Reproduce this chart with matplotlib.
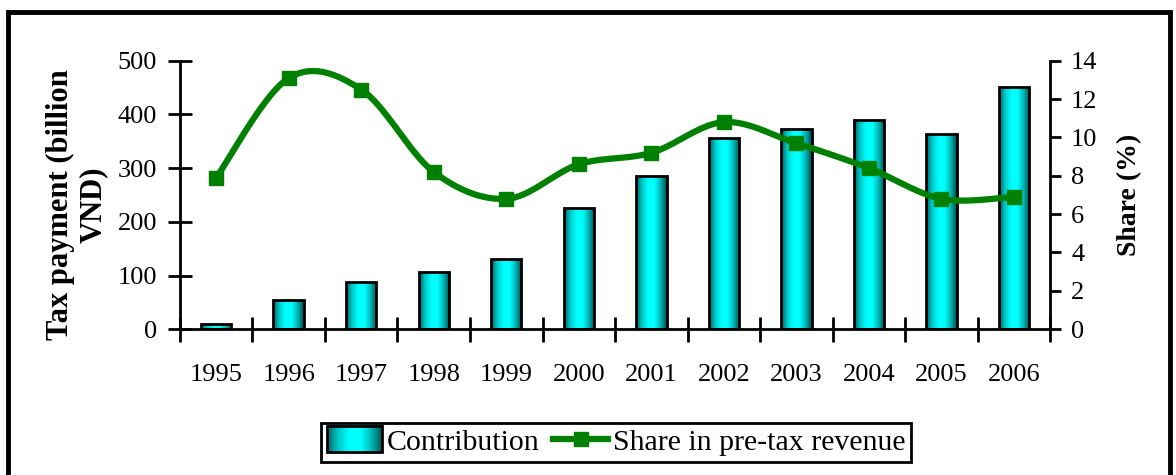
import numpy as np
import matplotlib
matplotlib.use("Agg")
import matplotlib.pyplot as plt
from matplotlib.colors import LinearSegmentedColormap
from matplotlib.patches import Rectangle
from matplotlib.lines import Line2D
from matplotlib.legend_handler import HandlerPatch
from matplotlib.image import BboxImage
from matplotlib.transforms import Bbox, TransformedBbox

years = ["1995", "1996", "1997", "1998", "1999", "2000",
         "2001", "2002", "2003", "2004", "2005", "2006"]
contribution = [9, 54, 88, 106, 131, 226, 285, 356, 373, 390, 364, 451]
share = [7.9, 13.1, 12.5, 8.2, 6.8, 8.6, 9.2, 10.8, 9.7, 8.4, 6.8, 6.9]

plt.rcParams['font.family'] = ['Liberation Serif', 'DejaVu Serif']
FS = 19
GREEN = "#008000"

fig = plt.figure(figsize=(11.76, 4.75), dpi=100)
ax = fig.add_axes([0.153, 0.307, 0.740, 0.565])
ax2 = ax.twinx()

x = np.arange(len(years))
cmap = LinearSegmentedColormap.from_list(
    "cy", ["#005f5f", "#00c8c8", "#00ffff", "#00ffff", "#00b4b4", "#004c4c"])
bars = ax.bar(x, contribution, width=0.42, color="none", edgecolor="black",
              linewidth=2, zorder=3)
grad = np.linspace(0, 1, 256).reshape(1, -1)
for b in bars:
    x0, y0 = b.get_x(), b.get_y()
    w, h = b.get_width(), b.get_height()
    im = ax.imshow(grad, cmap=cmap, aspect="auto",
                   extent=[x0, x0 + w, y0, y0 + h], zorder=2,
                   interpolation="bilinear")
    im.set_clip_path(b)

ax.set_xlim(-0.5, len(years) - 0.5)
ax.set_ylim(0, 500)
ax.set_yticks([0, 100, 200, 300, 400, 500])
ax.set_xticks(x)
ax.set_xticklabels(years, fontsize=FS)
ax.set_xticks(np.arange(-0.5, len(years)), minor=True)
ax.tick_params(axis="x", which="major", length=0, pad=25)
ax.tick_params(axis="x", which="minor", direction="inout", length=18, width=2)
ax.tick_params(axis="y", direction="inout", length=17, width=2, labelsize=FS, pad=8)
for s in ["top", "right"]:
    ax.spines[s].set_visible(False)
ax.spines["left"].set_linewidth(2)
ax.spines["bottom"].set_linewidth(2)
ax.set_ylabel("Tax payment (billion\nVND)", fontsize=22, fontweight="bold",
              linespacing=1.15)
ax.yaxis.set_label_coords(-0.083, 0.465)

# Smoothed line rendering through the data points (Excel-like smoothing)
P = np.column_stack([x, share]).astype(float)
Pe = np.vstack([P[0], P, P[-1]])
xs, ys = [], []
t = np.linspace(0, 1, 40)
for i in range(1, len(Pe) - 2):
    p0, p1, p2, p3 = Pe[i - 1], Pe[i], Pe[i + 1], Pe[i + 2]
    c1 = p1 + (p2 - p0) / 6.0
    c2 = p2 - (p3 - p1) / 6.0
    pts = ((1 - t) ** 3)[:, None] * p1 + (3 * (1 - t) ** 2 * t)[:, None] * c1 \
        + (3 * (1 - t) * t ** 2)[:, None] * c2 + (t ** 3)[:, None] * p2
    xs.extend(pts[:, 0]); ys.extend(pts[:, 1])
ax2.plot(xs, ys, color=GREEN, linewidth=4.5, zorder=4, solid_capstyle="round")
ax2.plot(x, share, linestyle="none", marker="s", markersize=10.5,
         color=GREEN, zorder=5)
ax2.set_ylim(0, 14)
ax2.set_yticks(range(0, 15, 2))
ax2.tick_params(axis="y", direction="out", length=8, width=2, labelsize=FS, pad=7)
for s in ["top", "left", "bottom"]:
    ax2.spines[s].set_visible(False)
ax2.spines["right"].set_linewidth(2)
ax2.set_ylabel("Share (%)", fontsize=20, fontweight="bold", labelpad=14)


class GradHandler(HandlerPatch):
    def create_artists(self, legend, orig_handle, xdescent, ydescent,
                       width, height, fontsize, trans):
        bb0 = Bbox.from_bounds(-xdescent, -ydescent - 2, width, height + 4)
        r = Rectangle((bb0.x0, bb0.y0), bb0.width, bb0.height,
                      facecolor="none", edgecolor="black", linewidth=2,
                      transform=trans)
        img = BboxImage(TransformedBbox(bb0, trans), cmap=cmap,
                        interpolation="bilinear")
        img.set_data(grad)
        return [img, r]


bar_handle = Rectangle((0, 0), 1, 1)
line_handle = Line2D([], [], color=GREEN, linewidth=4.5, marker="s",
                     markersize=10.5)
leg = fig.legend([bar_handle, line_handle],
                 ["Contribution", "Share in pre-tax revenue"],
                 loc="center", bbox_to_anchor=(0.524, 0.069), ncol=2,
                 prop={"size": 21.5}, frameon=True, fancybox=False,
                 edgecolor="black", framealpha=1,
                 handlelength=1.85, handletextpad=0.15, columnspacing=0.45,
                 borderpad=0.2, borderaxespad=0,
                 handler_map={Rectangle: GradHandler()})
leg.get_frame().set_linewidth(2)

fig.add_artist(Rectangle((0.007, -0.1), 0.988, 1.075, transform=fig.transFigure,
                         facecolor="none", edgecolor="black", linewidth=3.5))

fig.savefig("out.png", dpi=100)
